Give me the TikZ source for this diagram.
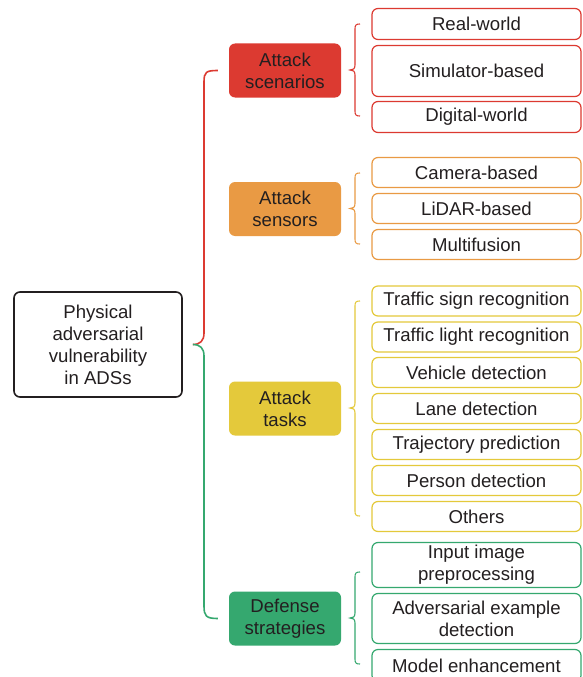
\documentclass[tikz,border=0pt]{standalone}
\usepackage{fontspec}
\setmainfont{Liberation Sans}
\usetikzlibrary{calc}
\definecolor{cred}{HTML}{DC3A31}
\definecolor{cora}{HTML}{E99A44}
\definecolor{cyel}{HTML}{E4C93B}
\definecolor{cgrn}{HTML}{35A86F}
\definecolor{ctxt}{HTML}{231F20}
\tikzset{
  base/.style={rounded corners=6pt, align=center, text=ctxt, inner sep=0pt,
    font=\fontsize{18.6}{22}\selectfont},
  rootbox/.style={base, draw=ctxt, line width=1.6pt, minimum width=168pt, minimum height=105pt},
  midbox/.style={base, fill=#1, draw=none, minimum width=112pt, minimum height=54pt},
  leaf/.style={base, draw=#1, line width=1.2pt, minimum width=209pt},
  brace/.style={draw=#1, line width=1.1pt},
  mainbr/.style={draw=#1, line width=1.6pt}
}
\newcommand{\mybrace}[4]{%
  \draw[brace=#1] (360,#2) .. controls (356,#2) and (355,#2+1) .. (355,#2+5)
    -- (355,#3-5) .. controls (355,#3-1) and (353,#3) .. (350,#3)
    .. controls (353,#3) and (355,#3+1) .. (355,#3+5)
    -- (355,#4-5) .. controls (355,#4-1) and (356,#4) .. (360,#4);}
\begin{document}
\begin{tikzpicture}[x=1pt,y=-1pt]
\useasboundingbox (0,0) rectangle (582,677);
\fill[white] (0,0) rectangle (582,677);
% root
\node[rootbox] (root) at (98,344.5) {Physical\\adversarial\\vulnerability\\in ADSs};
% middle
\node[midbox=cred] (sc) at (285,70.5) {Attack\\scenarios};
\node[midbox=cora] (se) at (285,209) {Attack\\sensors};
\node[midbox=cyel] (ta) at (285,408.5) {Attack\\tasks};
\node[midbox=cgrn] (de) at (285,618.5) {Defense\\strategies};
% main brace
\coordinate (tip) at ($(root.east)+(10,0)$);
\draw[mainbr=cred] ($(sc.west)+(-11,0)$) .. controls (206,70.5) and (204,72) .. (204,82)
  -- (204,333) .. controls (204,341) and (200,344.5) .. (tip);
\draw[mainbr=cgrn] (tip) .. controls (200,344.5) and (204,348) .. (204,356)
  -- (204,606) .. controls (204,616) and (206,618.5) .. ($(de.west)+(-11,0)$);
% leaves: scenarios
\node[leaf=cred, minimum height=31pt] (l1) at (476.5,24) {Real-world};
\node[leaf=cred, minimum height=51pt] (l2) at (476.5,71) {Simulator-based};
\node[leaf=cred, minimum height=31pt] (l3) at (476.5,117) {Digital-world};
\mybrace{cred}{24}{70}{116}
% sensors
\node[leaf=cora, minimum height=30pt] (s1) at (476.5,172.5) {Camera-based};
\node[leaf=cora, minimum height=30pt] (s2) at (476.5,208.5) {LiDAR-based};
\node[leaf=cora, minimum height=30pt] (s3) at (476.5,244.5) {Multifusion};
\mybrace{cora}{173}{208.5}{244}
% tasks
\node[leaf=cyel, minimum height=30pt] (t1) at (476.5,301) {Traffic sign recognition};
\node[leaf=cyel, minimum height=30pt] (t2) at (476.5,337) {Traffic light recognition};
\node[leaf=cyel, minimum height=30pt] (t3) at (476.5,372.5) {Vehicle detection};
\node[leaf=cyel, minimum height=30pt] (t4) at (476.5,408.5) {Lane detection};
\node[leaf=cyel, minimum height=30pt] (t5) at (476.5,444.5) {Trajectory prediction};
\node[leaf=cyel, minimum height=30pt] (t6) at (476.5,480.5) {Person detection};
\node[leaf=cyel, minimum height=30pt] (t7) at (476.5,516.5) {Others};
\mybrace{cyel}{301}{408}{516}
% defense
\node[leaf=cgrn, minimum height=45pt] (d1) at (476.5,565) {Input image\\preprocessing};
\node[leaf=cgrn, minimum height=50pt] (d2) at (476.5,618.5) {Adversarial example\\detection};
\node[leaf=cgrn, minimum height=32pt] (d3) at (476.5,665.5) {Model enhancement};
\mybrace{cgrn}{572}{618}{664}
\end{tikzpicture}
\end{document}
